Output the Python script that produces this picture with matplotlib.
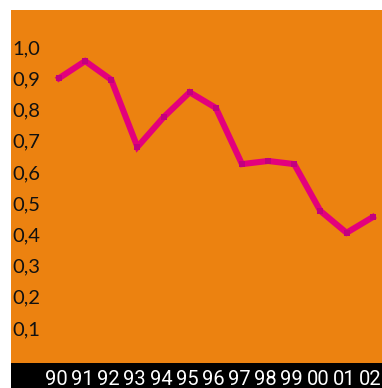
import matplotlib
matplotlib.use("Agg")
from matplotlib import pyplot as plt
from matplotlib.patches import Rectangle
import matplotlib.transforms as mtransforms

years = ["90", "91", "92", "93", "94", "95", "96", "97", "98", "99", "00", "01", "02"]
values = [0.90, 0.955, 0.895, 0.68, 0.775, 0.855, 0.805, 0.625, 0.635, 0.625, 0.475, 0.405, 0.455]
ytick_values = [0.1, 0.2, 0.3, 0.4, 0.5, 0.6, 0.7, 0.8, 0.9, 1.0]
ytick_labels = ["0,1", "0,2", "0,3", "0,4", "0,5", "0,6", "0,7", "0,8", "0,9", "1,0"]

ORANGE = "#EC8210"
LINE = "#E3007D"
MARK = "#C2007F"

W, H = 382, 388
fig = plt.figure(figsize=(W / 100, H / 100), dpi=100)
fig.patch.set_facecolor("white")

# orange plot area
ax = fig.add_axes([11 / W, 1 - 363 / H, (382 - 11) / W, (363 - 10) / H])
ax.set_facecolor(ORANGE)
for s in ax.spines.values():
    s.set_visible(False)
ax.set_xticks([])
ax.set_yticks([])

x = list(range(len(years)))
ax.plot(x, values, color=LINE, lw=4.4, solid_joinstyle="miter", zorder=2)
ax.plot(x, values, ls="none", marker="s", ms=4.2, color=MARK, mew=0, zorder=3)

ax.set_xlim(-1.836, 12.357)
ax.set_ylim(-0.012, 1.1185)

# value labels on the left, inside the orange area
trans = mtransforms.blended_transform_factory(ax.transAxes, ax.transData)
for v, lab in zip(ytick_values, ytick_labels):
    ax.text(0.005, v - 0.005, lab, transform=trans, ha="left", va="center",
            fontsize=14.5, family="Lato", color="#111111")

# black strip with year labels
fig.patches.append(Rectangle((11 / W, 0), 1 - 11 / W, 25 / H,
                             transform=fig.transFigure, facecolor="black",
                             edgecolor="none", zorder=-1))
trans_x = mtransforms.blended_transform_factory(ax.transData, fig.transFigure)
for i, lab in enumerate(years):
    fig.text(i - 0.1, 1 - 379.5 / H, lab, transform=trans_x, ha="center", va="center",
             fontsize=14.5, family="Roboto", color="white", zorder=5)

fig.savefig("out.png", dpi=100)
